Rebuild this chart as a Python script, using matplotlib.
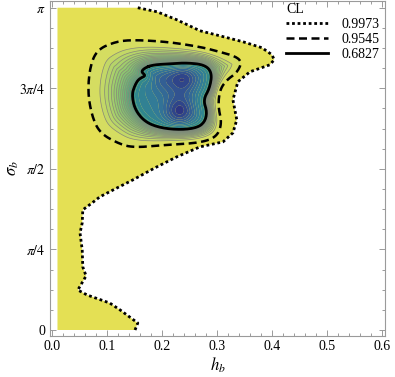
import numpy as np
import matplotlib
matplotlib.use("Agg")
import matplotlib.pyplot as plt
from matplotlib.path import Path
from matplotlib.patches import Polygon
from matplotlib.colors import LinearSegmentedColormap
from matplotlib.lines import Line2D
from matplotlib.ticker import MultipleLocator

plt.rcParams['font.family'] = ['Liberation Serif', 'DejaVu Serif']
plt.rcParams['mathtext.fontset'] = 'stix'

# ---------------- data ----------------
cl_levels = ["0.9973", "0.9545", "0.6827"]

# 0.9973 CL region (closed along plot edges)
h99 = [0.010, 0.156, 0.191, 0.227, 0.269, 0.305, 0.347, 0.382, 0.400, 0.404,
       0.396, 0.360, 0.338, 0.329, 0.336, 0.329, 0.311, 0.269, 0.227, 0.187,
       0.147, 0.115, 0.087, 0.073, 0.056, 0.055, 0.051, 0.055, 0.056, 0.062,
       0.047, 0.064, 0.105, 0.124, 0.156, 0.151, 0.010]
s99 = [3.1416, 3.1416, 3.102, 3.024, 2.917, 2.868, 2.810, 2.751, 2.683, 2.634,
       2.585, 2.517, 2.420, 2.244, 2.049, 1.922, 1.834, 1.785, 1.688, 1.580,
       1.463, 1.376, 1.298, 1.239, 1.171, 1.044, 0.946, 0.780, 0.615, 0.527,
       0.390, 0.341, 0.263, 0.195, 0.068, 0.0, 0.0]

# 0.9545 CL contour (closed)
h95 = [0.115, 0.147, 0.209, 0.269, 0.305, 0.336, 0.345, 0.336, 0.318, 0.305,
       0.302, 0.309, 0.300, 0.269, 0.209, 0.147, 0.118, 0.087, 0.073, 0.065,
       0.069, 0.082]
s95 = [2.810, 2.829, 2.810, 2.761, 2.712, 2.663, 2.605, 2.507, 2.439, 2.341,
       2.176, 2.020, 1.883, 1.824, 1.805, 1.776, 1.824, 1.922, 2.078, 2.312,
       2.566, 2.732]

# 0.6827 CL contour (closed)
h68 = [0.169, 0.184, 0.215, 0.245, 0.278, 0.291, 0.287, 0.275, 0.282, 0.278,
       0.264, 0.233, 0.196, 0.169, 0.151, 0.145, 0.151, 0.158, 0.171, 0.162]
s68 = [2.556, 2.585, 2.595, 2.605, 2.585, 2.507, 2.361, 2.244, 2.127, 2.029,
       1.971, 1.951, 1.971, 2.029, 2.146, 2.293, 2.390, 2.449, 2.478, 2.517]

# density maxima inside the 0.6827 region
peak_h = [0.240, 0.232, 0.200]
peak_s = [2.47, 2.12, 2.46]
peak_amp = [0.50, 0.55, 0.25]

x_ticks = [0.0, 0.1, 0.2, 0.3, 0.4, 0.5, 0.6]
x_ticklabels = ["0.0", "0.1", "0.2", "0.3", "0.4", "0.5", "0.6"]
y_ticks = [0, np.pi / 4, np.pi / 2, 3 * np.pi / 4, np.pi]
y_ticklabels = ["0", r"$\pi/4$", r"$\pi/2$", r"$3\pi/4$", r"$\pi$"]

# ---------------- helpers ----------------
SX, SY = 550.0, 102.5   # display scale (px per unit)


def chaikin(x, y, n=3):
    p = np.column_stack([x, y]).astype(float)
    for _ in range(n):
        nxt = np.roll(p, -1, axis=0)
        q = 0.75 * p + 0.25 * nxt
        r = 0.25 * p + 0.75 * nxt
        p = np.empty((2 * len(q), 2))
        p[0::2] = q
        p[1::2] = r
    return p


def dist_to_poly(P, poly):
    A = poly
    B = np.roll(poly, -1, axis=0)
    d = np.full(len(P), np.inf)
    for a, b in zip(A, B):
        ab = b - a
        ap = P - a
        t = np.clip((ap @ ab) / max(ab @ ab, 1e-12), 0, 1)
        dd = ap - t[:, None] * ab
        d = np.minimum(d, np.hypot(dd[:, 0], dd[:, 1]))
    return d


c95 = chaikin(h95, s95)
c68 = chaikin(h68, s68)

# field on a grid
gh = np.linspace(0.05, 0.36, 260)
gs = np.linspace(1.70, 2.90, 260)
GH, GS = np.meshgrid(gh, gs)
P = np.column_stack([GH.ravel(), GS.ravel()])
Ppx = P * [SX, SY]
c95px = c95 * [SX, SY]
c68px = c68 * [SX, SY]

in95 = Path(c95).contains_points(P)
in68 = Path(c68).contains_points(P)
d95 = dist_to_poly(Ppx, c95px)
d68 = dist_to_poly(Ppx, c68px)

T = np.where(in95, d95 / (d95 + d68 + 1e-9), -d95 / 50.0)
ramp = 1 - np.exp(-d68 / 6.0)
pk = np.zeros(len(P))
for ph, ps, pa in zip(peak_h, peak_s, peak_amp):
    pk += pa * np.exp(-(((Ppx[:, 0] - ph * SX) ** 2) / (2 * 11.0 ** 2)
                        + ((Ppx[:, 1] - ps * SY) ** 2) / (2 * 12.0 ** 2)))
T = np.where(in68, 1 + ramp * (0.24 + pk), T)
T = T.reshape(GH.shape)

tmax = 1.8
cmap = LinearSegmentedColormap.from_list("cl", [
    (0.000, "#e0df5c"),
    (0.139, "#cbdb65"),
    (0.278, "#a8d06b"),
    (0.417, "#7dc172"),
    (0.500, "#5aae7b"),
    (0.556, "#3c9886"),
    (0.600, "#2f8a8c"),
    (0.722, "#327a98"),
    (0.861, "#335c94"),
    (1.000, "#2c3080"),
])

# ---------------- figure ----------------
fig = plt.figure(figsize=(3.95, 3.77), dpi=100)
ax = fig.add_axes([50 / 395, 41 / 377, 335 / 395, 335 / 377])

yellow = "#e4e054"
ax.add_patch(Polygon(np.column_stack([h99, s99]), closed=True,
                     facecolor=yellow, edgecolor="none", zorder=1))

lev_out = np.sqrt(np.linspace(0, 1, 16))
lev_in = np.linspace(1, tmax, 11)[1:]
levels = np.concatenate([lev_out, lev_in])
ax.contourf(GH, GS, T, levels=np.append(levels, 5), cmap=cmap,
            vmin=0, vmax=tmax, zorder=2, antialiased=True)
ax.contour(GH, GS, T, levels=lev_out[1:-1], colors="#7d7d7d",
           linewidths=0.5, alpha=0.9, zorder=3)

# CL contour lines
ax.plot(h99[1:-1], s99[1:-1], color="black", lw=2.0, dashes=(1.0, 1.0),
        zorder=5, solid_capstyle="butt", dash_capstyle="butt")
cc = np.vstack([c95, c95[:1]])
ax.plot(cc[:, 0], cc[:, 1], color="black", lw=1.8, dashes=(3.2, 1.8), zorder=5)
cc = np.vstack([c68, c68[:1]])
ax.plot(cc[:, 0], cc[:, 1], color="black", lw=2.0, zorder=5)

ax.set_xlim(-0.0036, 0.6055)
ax.set_ylim(-0.0585, np.pi + 0.0655)

ax.set_xticks(x_ticks)
ax.set_xticklabels(x_ticklabels)
ax.set_yticks(y_ticks)
ax.set_yticklabels(y_ticklabels)
ax.xaxis.set_minor_locator(MultipleLocator(0.02))
ax.yaxis.set_minor_locator(MultipleLocator(np.pi / 16))
gc = "#9a9a9a"
for sp in ax.spines.values():
    sp.set_color(gc)
    sp.set_linewidth(0.8)
ax.tick_params(which="both", direction="in", top=True, right=True,
               color=gc, labelsize=10, width=0.7)
ax.tick_params(which="major", length=4, pad=3)
ax.tick_params(which="minor", length=2.5)

ax.set_xlabel(r"$h_b$", fontsize=12, labelpad=2)
ax.set_ylabel(r"$\sigma_b$", fontsize=12)
ax.yaxis.set_label_coords(-0.088, 0.5)

handles = [Line2D([], [], color="black", lw=2.0, dashes=(1.0, 1.0)),
           Line2D([], [], color="black", lw=1.8, dashes=(3.2, 1.8)),
           Line2D([], [], color="black", lw=2.0)]
leg = ax.legend(handles, cl_levels, title="CL", loc="upper left",
                bbox_to_anchor=(236 / 335, 0.995), frameon=False,
                fontsize=10, title_fontsize=10, handlelength=3.0,
                handletextpad=1.0, labelspacing=0.15, alignment="left",
                borderaxespad=0, borderpad=0)

fig.savefig("out.png", dpi=100)
